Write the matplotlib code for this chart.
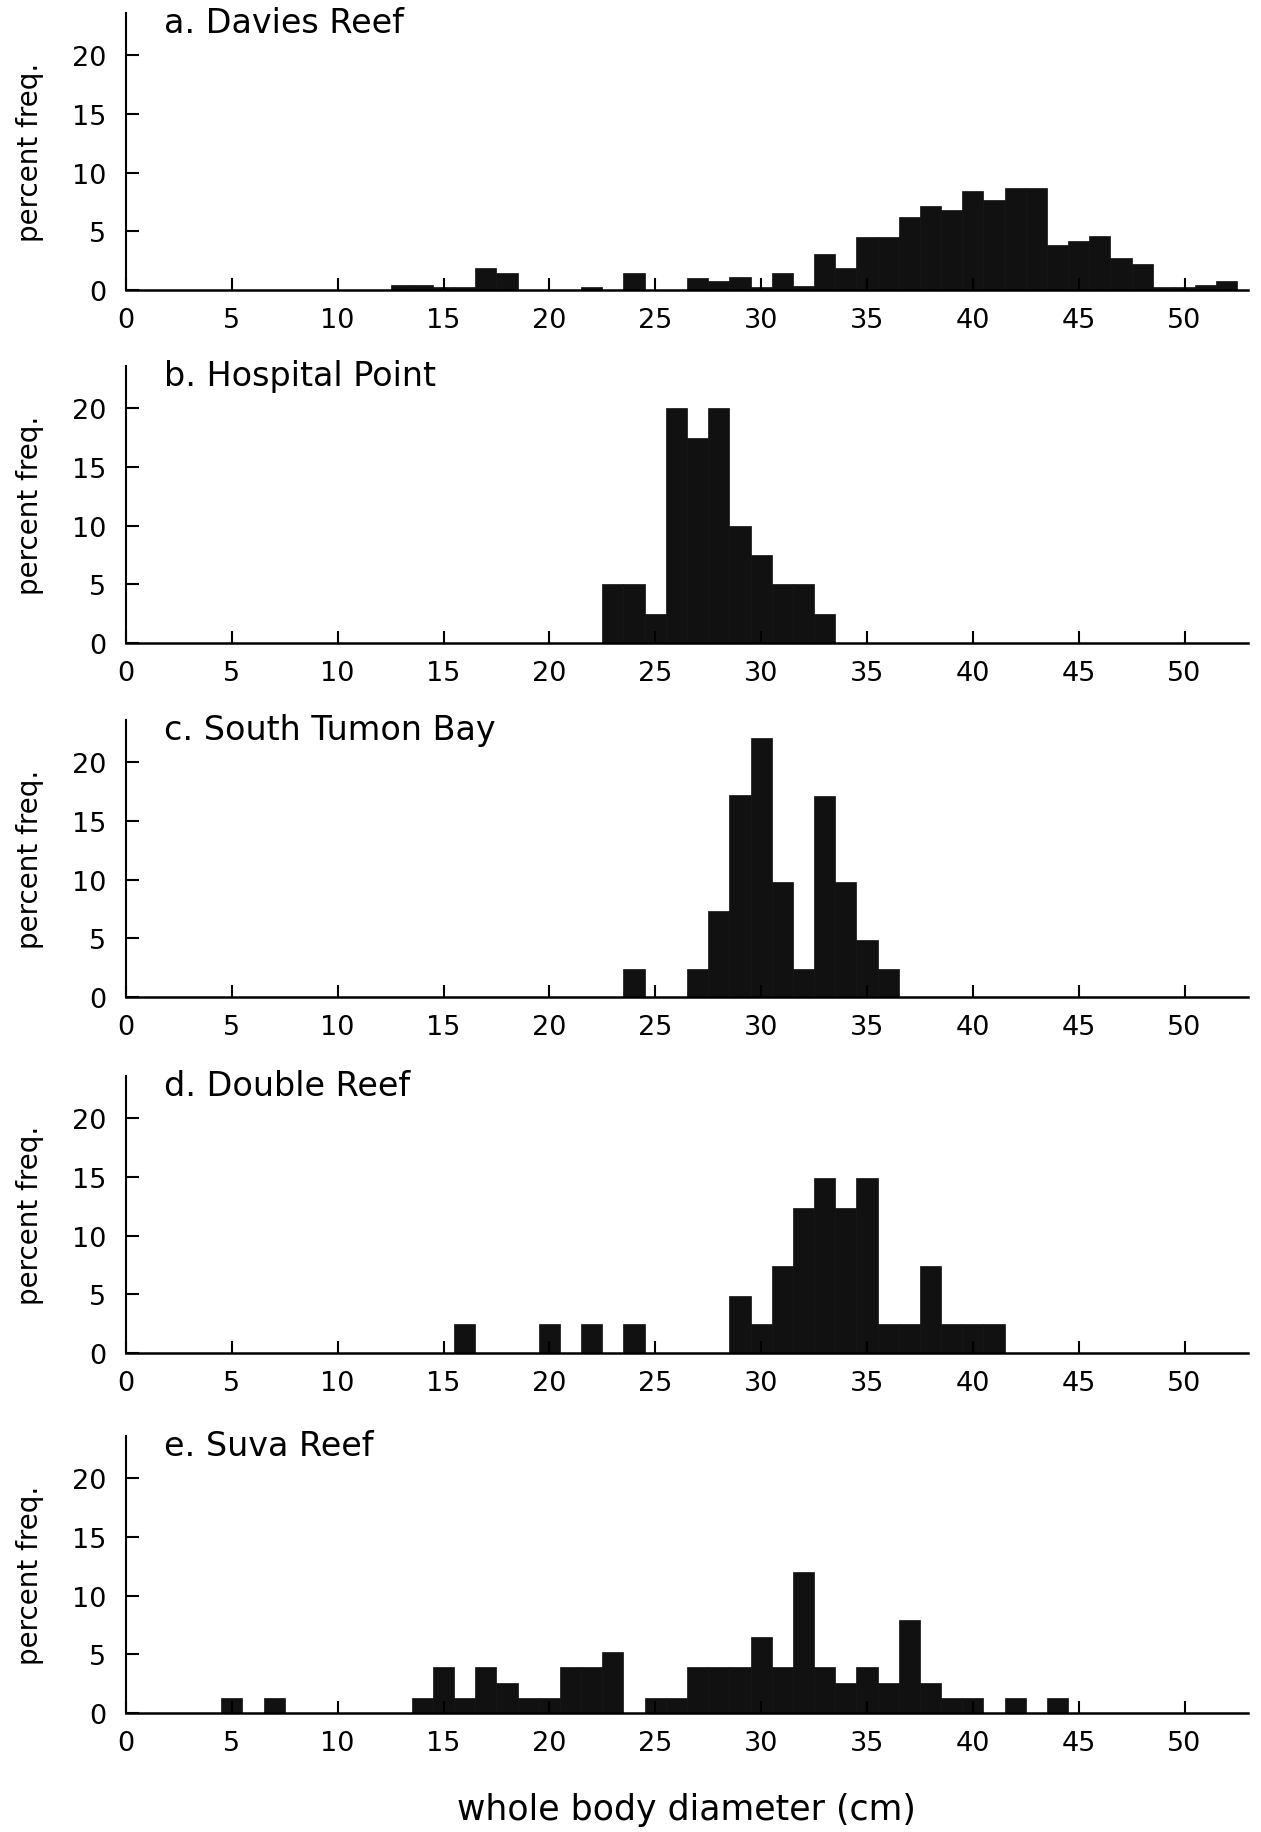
import matplotlib
matplotlib.use("Agg")

import matplotlib.pyplot as plt

# percent frequency per 1-cm size class (only non-empty classes listed)
davies_cm = [13, 14, 15, 16, 17, 18, 22, 24, 27, 28, 29, 30, 31, 32, 33, 34, 35, 36, 37, 38,
             39, 40, 41, 42, 43, 44, 45, 46, 47, 48, 49, 50, 51, 52]
davies_pct = [0.4, 0.4, 0.3, 0.3, 1.9, 1.45, 0.3, 1.45, 1.05, 0.8, 1.1, 0.3, 1.45, 0.35, 3.05, 1.9,
              4.5, 4.5, 6.2, 7.2, 6.8, 8.4, 7.65, 8.7, 8.7, 3.8, 4.2, 4.6, 2.7, 2.25, 0.3, 0.3, 0.4, 0.8]

hospital_cm = [23, 24, 25, 26, 27, 28, 29, 30, 31, 32, 33]
hospital_pct = [5, 5, 2.5, 20, 17.5, 20, 10, 7.5, 5, 5, 2.5]

tumon_cm = [24, 27, 28, 29, 30, 31, 32, 33, 34, 35, 36]
tumon_pct = [2.4, 2.4, 7.3, 17.2, 22.1, 9.8, 2.4, 17.1, 9.8, 4.9, 2.4]

double_cm = [16, 20, 22, 24, 29, 30, 31, 32, 33, 34, 35, 36, 37, 38, 39, 40, 41]
double_pct = [2.45, 2.45, 2.45, 2.45, 4.9, 2.45, 7.4, 12.4, 14.9, 12.4, 14.9, 2.45, 2.45, 7.4,
              2.45, 2.45, 2.45]

suva_cm = [5, 7, 14, 15, 16, 17, 18, 19, 20, 21, 22, 23, 25, 26, 27, 28, 29, 30, 31, 32, 33,
           34, 35, 36, 37, 38, 39, 40, 42, 44]
suva_pct = [1.3, 1.3, 1.3, 3.9, 1.3, 3.9, 2.6, 1.3, 1.3, 3.9, 3.9, 5.2, 1.3, 1.3, 3.9, 3.9, 3.9,
            6.5, 3.9, 12.0, 3.9, 2.6, 3.9, 2.6, 7.9, 2.6, 1.3, 1.3, 1.3, 1.3]

titles = ["a. Davies Reef", "b. Hospital Point", "c. South Tumon Bay", "d. Double Reef", "e. Suva Reef"]
panels = [(davies_cm, davies_pct), (hospital_cm, hospital_pct), (tumon_cm, tumon_pct),
          (double_cm, double_pct), (suva_cm, suva_pct)]

x_ticks = list(range(0, 51, 5))
y_ticks = [0, 5, 10, 15, 20]

plt.rcParams["font.family"] = ["DejaVu Sans"]

fig = plt.figure(figsize=(12.61, 18.33), dpi=100)

bottoms = [0.8412, 0.6487, 0.4555, 0.2613, 0.0649]
for bottom, title, (cm, pct) in zip(bottoms, titles, panels):
    ax = fig.add_axes([0.0999, bottom, 0.8898, 0.1511])
    ax.bar(cm, pct, width=1.0, color="#111111", edgecolor="#111111", linewidth=0.5)
    ax.set_xlim(0, 53)
    ax.set_ylim(0, 23.6)
    ax.set_xticks(x_ticks)
    ax.set_yticks(y_ticks)
    ax.spines["top"].set_visible(False)
    ax.spines["right"].set_visible(False)
    ax.spines["left"].set_linewidth(1.5)
    ax.spines["bottom"].set_linewidth(1.8)
    ax.tick_params(axis="x", direction="in", length=9, width=1.5, pad=12, labelsize=19.5)
    ax.tick_params(axis="y", direction="in", length=9, width=1.5, pad=14, labelsize=19.5)
    ax.set_ylabel("percent freq.", fontsize=20, labelpad=20)
    ax.text(1.8, 22.8, title, fontsize=24, va="center", ha="left")

fig.text(0.544, 0.0035, "whole body diameter (cm)", fontsize=25, ha="center", va="bottom")

fig.savefig("out.png", dpi=100)
